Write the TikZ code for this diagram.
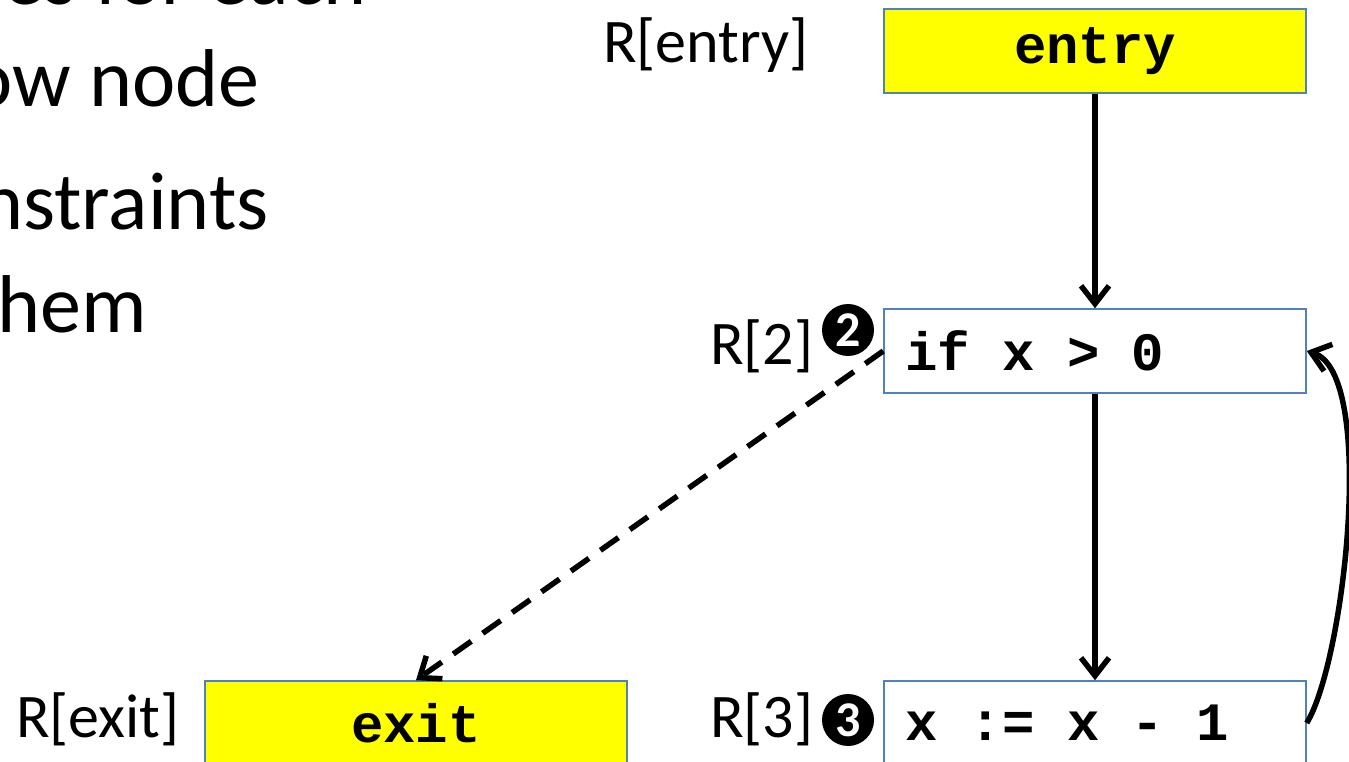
\documentclass[tikz,border=0pt]{standalone}
\usepackage{fontspec}
\setmainfont{Carlito}
\setmonofont{Liberation Mono}
\usetikzlibrary{arrows.meta}
\definecolor{boxblue}{HTML}{4F81BD}
\definecolor{hlyellow}{RGB}{255,255,0}
\newcommand{\codesp}{\hspace*{0.6em}}
\begin{document}
\begin{tikzpicture}[x=1pt,y=1pt,
  box/.style={draw=boxblue, line width=1.5pt, minimum width=422pt, minimum height=84pt, inner sep=0pt, font=\fontsize{54}{60}\selectfont\ttfamily\bfseries},
  startbox/.style={box, fill=hlyellow},
  codebox/.style={box, text width=380pt, inner xsep=21pt, align=left},
  lbl/.style={font=\fontsize{62}{70}\selectfont, inner sep=0pt, anchor=base west},
  big/.style={font=\fontsize{82}{100}\selectfont, inner sep=0pt, anchor=base east},
  badge/.style={circle, fill=black, text=white, inner sep=0pt, minimum size=52pt, font=\fontsize{50}{50}\selectfont\bfseries},
  arr/.style={line width=5.5pt, -{Straight Barb[length=18pt,width=28pt]}}
]
\useasboundingbox (0,0) rectangle (1349,761);
\clip (0,0) rectangle (1349,761);
% bullet text (cut off on the left)
\node[big] (t1) at (367,756) {es for each};
\node[big] (t2) at (260,654) {ow node};
\node[big] (t3) at (269,531) {onstraints};
\node[big] (t4) at (147,428) {hem};
% boxes
\node[startbox] (entry) at (1095,710) {entry};
\node[codebox] (if) at (1095,410) {if\codesp x\codesp >\codesp 0};
\node[codebox] (x3) at (1095,38) {x\codesp :=\codesp x\codesp -\codesp 1};
\node[startbox] (exit) at (416,38) {exit};
% labels
\node[lbl] (lentry) at (603,698) {R[entry]};
\node[lbl] (l2) at (710,396) {R[2]};
\node[lbl] (l3) at (710,24) {R[3]};
\node[lbl] (lexit) at (16,24) {R[exit]};
\node[badge] (b2) at (848,431) {2};
\node[badge] (b3) at (848,41) {3};
% connectors
\draw[arr] (entry.south) -- (if.north);
\draw[arr] (if.south) -- (x3.north);
\draw[arr, dash pattern=on 22pt off 14pt] (if.west) -- (exit.north);
\draw[arr] (x3.east) .. controls +(38,62) and +(70,-22) .. (if.east);
\end{tikzpicture}
\end{document}
